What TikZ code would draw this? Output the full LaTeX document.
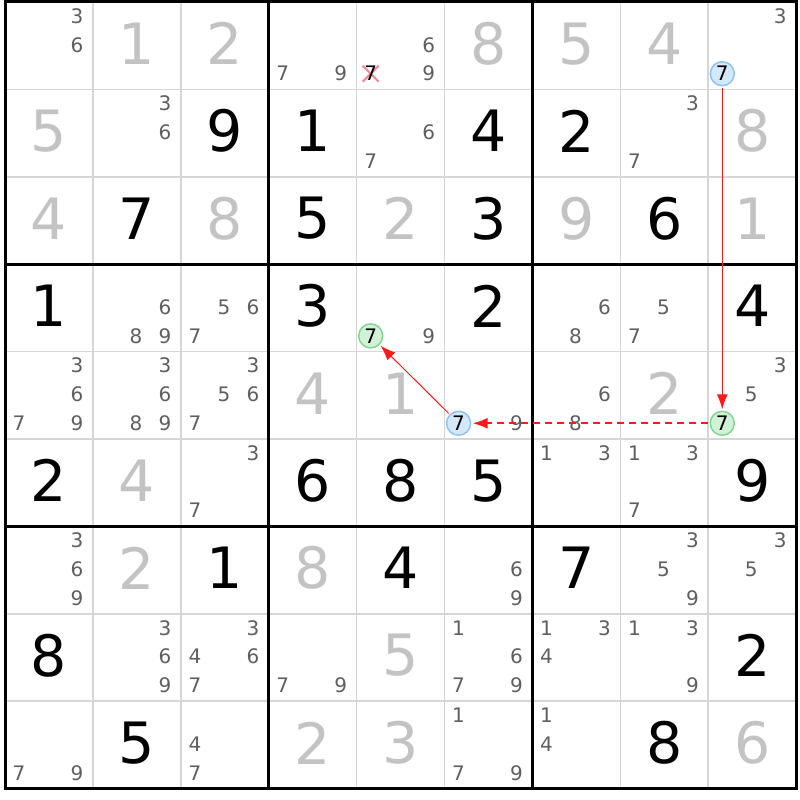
\documentclass[tikz,border=0pt]{standalone}
\usepackage{fontspec}
\setmainfont{DejaVu Sans}
\usetikzlibrary{arrows.meta}

\definecolor{solved}{HTML}{C3C3C3}
\definecolor{cand}{HTML}{5F5F5F}
\definecolor{cellgray}{HTML}{D6D6D6}
\definecolor{bluefill}{HTML}{D4E8FC}
\definecolor{blueline}{HTML}{8CC4F4}
\definecolor{greenfill}{HTML}{D2F2D8}
\definecolor{greenline}{HTML}{80D890}
\definecolor{crossred}{HTML}{F4868E}
\definecolor{linkred}{HTML}{FF1A1A}

\tikzset{
  givendigit/.style={inner sep=0, font=\fontsize{57}{57}\selectfont},
  solveddigit/.style={givendigit, text=solved},
  canddigit/.style={inner sep=0, text=cand, font=\fontsize{20}{20}\selectfont},
  bluemark/.style={circle, inner sep=0, minimum size=24, outer sep=2,
    fill=bluefill, draw=blueline, line width=1.5, font=\fontsize{20}{20}\selectfont},
  greenmark/.style={bluemark, fill=greenfill, draw=greenline},
  link/.style={->, color=linkred, line width=1},
  weaklink/.style={link, line width=2, dash pattern=on 7 off 5},
}

\begin{document}
\begin{tikzpicture}[x=1pt, y=-1pt, >={Latex[length=15,width=11]}]
\useasboundingbox (0,0) rectangle (800,800);
\fill[white] (0,0) rectangle (800,800);

% cell lines
\foreach \i in {1,2,4,5,7,8} {
  \draw[cellgray, line width=1.5] ({5+\i*87.9},2) -- ({5+\i*87.9},788.6);
  \draw[cellgray, line width=1.5] (5,{2+\i*87.4}) -- (796.1,{2+\i*87.4});
}
% box lines
\foreach \i in {3,6} {
  \draw[line width=3] ({5+\i*87.9},2) -- ({5+\i*87.9},788.6);
  \draw[line width=3] (5,{2+\i*87.4}) -- (796.1,{2+\i*87.4});
}
\draw[line width=3] (5,2) rectangle (796.1,788.6);

% givens
\foreach \r/\c/\d in {2/3/9,2/4/1,2/6/4,2/7/2, 3/2/7,3/4/5,3/6/3,3/8/6,
    4/1/1,4/4/3,4/6/2,4/9/4, 6/1/2,6/4/6,6/5/8,6/6/5,6/9/9,
    7/3/1,7/5/4,7/7/7, 8/1/8,8/9/2, 9/2/5,9/8/8}
  \node[givendigit] (g\r\c) at ({5+(\c-0.5)*87.9},{2+(\r-0.5)*87.4-2}) {\d};

% solved
\foreach \r/\c/\d in {1/2/1,1/3/2,1/6/8,1/7/5,1/8/4, 2/1/5,2/9/8,
    3/1/4,3/3/8,3/5/2,3/7/9,3/9/1, 5/4/4,5/5/1,5/8/2, 6/2/4,
    7/2/2,7/4/8, 8/5/5, 9/4/2,9/5/3,9/9/6}
  \node[solveddigit] (s\r\c) at ({5+(\c-0.5)*87.9},{2+(\r-0.5)*87.4-2}) {\d};

% candidates
\foreach \r/\c/\d in {1/1/3,1/1/6, 1/4/7,1/4/9, 1/5/6,1/5/9, 1/9/3,
    2/2/3,2/2/6, 2/5/6,2/5/7, 2/8/3,2/8/7,
    4/2/6,4/2/8,4/2/9, 4/3/5,4/3/6,4/3/7, 4/5/9, 4/7/6,4/7/8, 4/8/5,4/8/7,
    5/1/3,5/1/6,5/1/7,5/1/9, 5/2/3,5/2/6,5/2/8,5/2/9, 5/3/3,5/3/5,5/3/6,5/3/7,
    5/6/9, 5/7/6,5/7/8, 5/9/3,5/9/5,
    6/3/3,6/3/7, 6/7/1,6/7/3, 6/8/1,6/8/3,6/8/7,
    7/1/3,7/1/6,7/1/9, 7/6/6,7/6/9, 7/8/3,7/8/5,7/8/9, 7/9/3,7/9/5,
    8/2/3,8/2/6,8/2/9, 8/3/3,8/3/4,8/3/6,8/3/7, 8/4/7,8/4/9,
    8/6/1,8/6/6,8/6/7,8/6/9, 8/7/1,8/7/3,8/7/4, 8/8/1,8/8/3,8/8/9,
    9/1/7,9/1/9, 9/3/4,9/3/7, 9/6/1,9/6/7,9/6/9, 9/7/1,9/7/4} {
  \pgfmathsetmacro\cx{5+(\c-1)*87.9+87.9*(0.16+0.33*mod(\d-1,3))}
  \pgfmathsetmacro\cy{2+(\r-1)*87.4+87.4*(0.16+0.33*floor((\d-1)/3))}
  \node[canddigit] (k\r\c\d) at (\cx,\cy) {\d};
}

% eliminated candidate
\coordinate (x157) at ({5+4.16*87.9},{2+0.82*87.4});
\draw[crossred, line width=2] ([shift={(-8,-8)}]x157) -- ([shift={(8,8)}]x157);
\draw[crossred, line width=2] ([shift={(-8,8)}]x157) -- ([shift={(8,-8)}]x157);
\node[canddigit, text=black] (k157) at (x157) {7};

% chain
\node[bluemark] (b197) at ({5+8.16*87.9},{2+0.82*87.4}) {7};
\node[greenmark] (e597) at ({5+8.16*87.9},{2+4.82*87.4}) {7};
\node[bluemark] (b567) at ({5+5.16*87.9},{2+4.82*87.4}) {7};
\node[greenmark] (e457) at ({5+4.16*87.9},{2+3.82*87.4}) {7};

\draw[link] (b197) -- (e597);
\draw[weaklink] (e597) -- (b567);
\draw[link] (b567) -- (e457);

\end{tikzpicture}
\end{document}
